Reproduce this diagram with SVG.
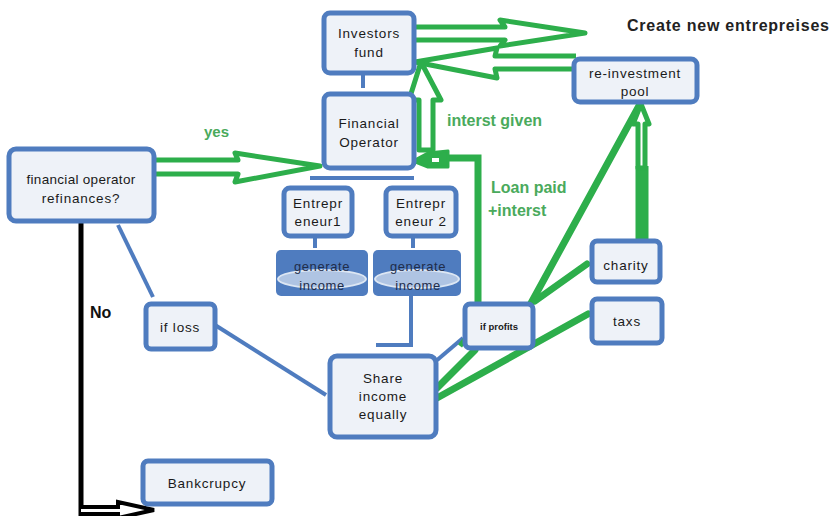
<svg xmlns="http://www.w3.org/2000/svg" width="831" height="516" viewBox="0 0 831 516">
<style>
.box{fill:#EEF2F8;stroke:#4F7CBF;stroke-width:5}
.t{font-family:"Liberation Sans",Arial,sans-serif;font-size:13.5px;fill:#1a1a1a;text-anchor:middle;letter-spacing:0.8px}
.g{fill:none;stroke:#2DAE4B;stroke-width:7;stroke-linecap:round}
.gh{fill:#fff;stroke:#2DAE4B;stroke-width:5;stroke-linejoin:round}
.b{fill:none;stroke:#4F7CBF;stroke-width:4}
.gl{font-family:"Liberation Sans",Arial,sans-serif;font-weight:bold;fill:#4AAA5C}
.gen{fill:#4F7CBF}
.genr{fill:#AFC4E3;stroke:#DCE6F3;stroke-width:2}
.gt{font-family:"Liberation Sans",Arial,sans-serif;font-size:13px;fill:#1F2D4A;text-anchor:middle;letter-spacing:0.6px}
</style>
<rect width="831" height="516" fill="#fff"/>
<g id="connectors">
<line class="b" x1="363" y1="73" x2="363" y2="88"/>
<line class="b" x1="310" y1="178" x2="414" y2="178"/>
<line class="b" x1="315" y1="237" x2="315" y2="248"/>
<line class="b" x1="413" y1="237" x2="413" y2="248"/>
<line class="b" x1="118" y1="225" x2="153" y2="297"/>
<line class="b" x1="215" y1="325" x2="326" y2="395"/>
<polyline class="b" points="411,296 411,345 376,345"/>
<line class="b" x1="436" y1="361" x2="463" y2="338"/>
<line class="g" x1="437" y1="388" x2="475" y2="350"/>
<line class="g" x1="437" y1="398" x2="588" y2="314"/>
<line class="g" x1="530" y1="305" x2="640" y2="104"/>
<line class="g" x1="535" y1="301" x2="587" y2="264"/>
<line x1="460" y1="346" x2="466" y2="338" stroke="#2DAE4B" stroke-width="5"/>
<polyline class="g" points="478,304 478,158 446,158"/>
<path d="M448,151 L448,167 L428,167 L413,161 L428,153 Z" fill="#2DAE4B" stroke="#2DAE4B" stroke-width="3" stroke-linejoin="round"/>
<rect x="432" y="158" width="7" height="4" fill="#fff"/>
<line x1="642" y1="243" x2="642" y2="166" stroke="#2DAE4B" stroke-width="13"/>
<path class="gh" d="M638,168 L638,124 L633,124 L641,104 L649,124 L645,124 L645,168 Z"/>
<path class="gh" d="M415,27 L505,27 L500,20 L585,33 L500,46 L505,40 L415,40"/>
<path class="gh" d="M576,56 L495,56 L497,48 L415,62 L497,78 L495,69 L576,69"/>
<path class="gh" d="M419,150 L419,100 L409,100 L421,62 L441,100 L433,100 L433,150 Z"/>
<path class="gh" d="M156,160 L238,160 L235,153 L320,166 L235,182 L238,174 L156,174"/>
<line x1="81" y1="222" x2="81" y2="516" stroke="#000" stroke-width="5"/>
<path d="M81,507 L118,507 L118,502 L154,510 L118,518 L118,514 L81,514" fill="#fff" stroke="#000" stroke-width="4"/>
</g>
<g id="investors"><rect class="box" x="324" y="13" width="90" height="60" rx="6"/><text class="t" x="369" y="38">Investors</text><text class="t" x="369" y="57">fund</text></g>
<g id="financial-operator"><rect class="box" x="324" y="94" width="90" height="74" rx="6"/><text class="t" x="369" y="128">Financial</text><text class="t" x="369" y="147">Operator</text></g>
<g id="refinances"><rect class="box" x="9" y="149" width="145" height="72" rx="7"/><text class="t" x="81" y="184" style="letter-spacing:0.3px">financial operator</text><text class="t" x="81" y="203">refinances?</text></g>
<g id="entrepreneur1"><rect class="box" x="284" y="188" width="68" height="48" rx="6"/><text class="t" x="318" y="208">Entrepr</text><text class="t" x="318" y="226">eneur1</text></g>
<g id="entrepreneur2"><rect class="box" x="386" y="188" width="70" height="48" rx="6"/><text class="t" x="421" y="208">Entrepr</text><text class="t" x="421" y="226">eneur 2</text></g>
<g id="generate1"><rect class="gen" x="276" y="250" width="92" height="46" rx="5"/><ellipse class="genr" cx="322" cy="279" rx="44" ry="9"/><text class="gt" x="322" y="271">generate</text><text class="gt" x="322" y="290">income</text></g>
<g id="generate2"><rect class="gen" x="373" y="250" width="88" height="46" rx="5"/><ellipse class="genr" cx="417" cy="279" rx="42" ry="9"/><text class="gt" x="418" y="271">generate</text><text class="gt" x="418" y="290">income</text></g>
<g id="reinvestment"><rect class="box" x="574" y="59" width="123" height="43" rx="6"/><text class="t" x="635" y="78">re-investment</text><text class="t" x="635" y="96">pool</text></g>
<g id="charity"><rect class="box" x="592" y="241" width="68" height="41" rx="5"/><text class="t" x="626" y="270">charity</text></g>
<g id="taxs"><rect class="box" x="592" y="299" width="70" height="44" rx="5"/><text class="t" x="627" y="326">taxs</text></g>
<g id="if-profits"><rect class="box" x="465" y="304" width="68" height="44" rx="5"/><text class="t" x="499" y="330" style="font-size:9.5px;font-weight:bold;letter-spacing:0">if profits</text></g>
<g id="if-loss"><rect class="box" x="146" y="304" width="69" height="45" rx="5"/><text class="t" x="180" y="332">if loss</text></g>
<g id="share"><rect class="box" x="330" y="356" width="106" height="81" rx="7"/><text class="t" x="383" y="383">Share</text><text class="t" x="383" y="401">income</text><text class="t" x="383" y="419">equally</text></g>
<g id="bankcrupcy"><rect class="box" x="143" y="461" width="129" height="43" rx="5"/><text class="t" x="207" y="488">Bankcrupcy</text></g>
<g id="labels">
<text x="627" y="31" font-family="Liberation Sans,Arial,sans-serif" font-weight="bold" font-size="16" fill="#222" textLength="202">Create new entrepreises</text>
<text class="gl" x="204" y="137" font-size="15">yes</text>
<text class="gl" x="447" y="126" font-size="16">interst given</text>
<text class="gl" x="491" y="193" font-size="16">Loan paid</text>
<text class="gl" x="488" y="216" font-size="16">+interst</text>
<text x="90" y="318" font-family="Liberation Sans,Arial,sans-serif" font-weight="bold" font-size="16" fill="#111">No</text>
</g>
</svg>
